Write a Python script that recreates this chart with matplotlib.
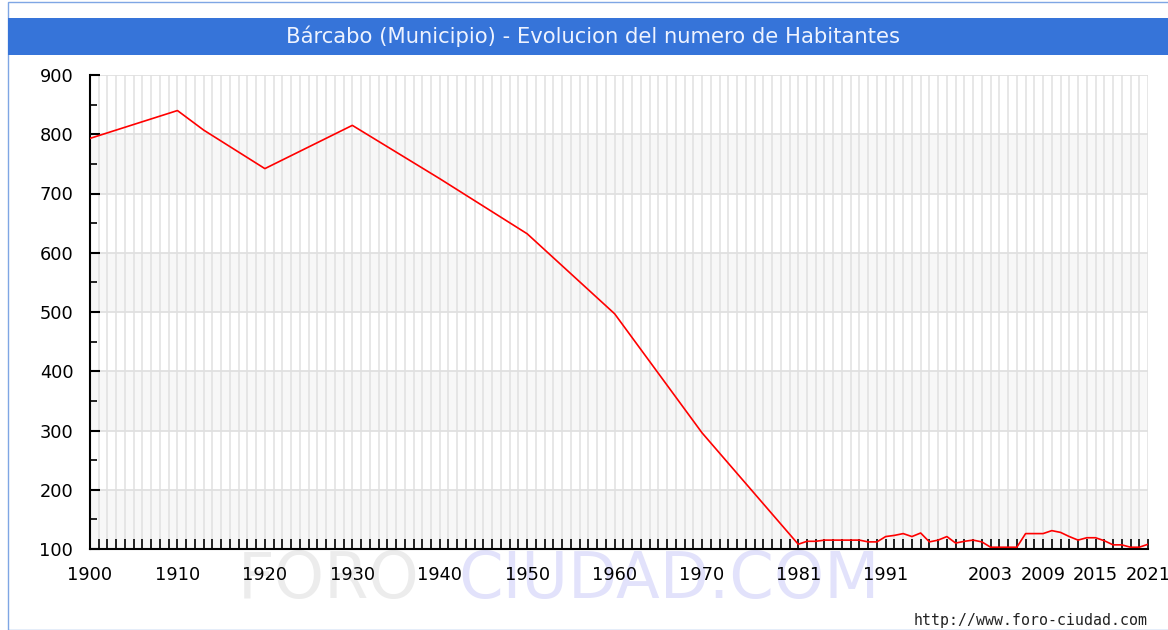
import numpy as np
import matplotlib
matplotlib.use('Agg')
import matplotlib.pyplot as plt
from matplotlib.patches import Rectangle

# --- DATA
years = [1900, 1910, 1913, 1920, 1930, 1940, 1950, 1960, 1970, 1981,
         1982, 1983, 1984, 1985, 1986, 1987, 1988, 1989, 1990, 1991,
         1992, 1993, 1994, 1995, 1996, 1997, 1998, 1999, 2000, 2001,
         2002, 2003, 2004, 2005, 2006, 2007, 2008, 2009, 2010, 2011,
         2012, 2013, 2014, 2015, 2016, 2017, 2018, 2019, 2020, 2021]
habitantes = [793, 840, 807, 742, 815, 725, 632, 497, 296, 108,
              113, 113, 115, 115, 115, 115, 115, 112, 112, 121,
              123, 126, 121, 127, 112, 115, 121, 110, 113, 115,
              112, 103, 103, 103, 103, 126, 126, 126, 131, 128,
              121, 115, 119, 119, 114, 107, 107, 103, 103, 108]
xlabel_years = [1900, 1910, 1920, 1930, 1940, 1950, 1960, 1970, 1981,
                1991, 2003, 2009, 2015, 2021]
titulo = "Bárcabo (Municipio) - Evolucion del numero de Habitantes"

# --- FIGURE
fig = plt.figure(figsize=(11.68, 6.30), dpi=100)
W, H = 1168, 630

# title bar + frame
fig.patches.append(Rectangle((8/W, 0), 1, 1 - 2/H, transform=fig.transFigure,
                             fill=False, edgecolor='#7fa6e4', lw=1, zorder=-3))
fig.patches.append(Rectangle((8/W, 1 - 55/H), 1, 37/H, transform=fig.transFigure,
                             facecolor='#3674d9', edgecolor='none', zorder=-3))
fig.text(593/W, 1 - 36/H, titulo, color='#eef3ff', fontsize=15.2,
         ha='center', va='center')

# watermark
fig.text(238/W, 1 - 598/H, "FORO", color='#ececec', fontsize=46,
         ha='left', va='baseline', zorder=-2)
fig.text(458/W, 1 - 598/H, "CIUDAD.COM", color='#e2e2fb', fontsize=46,
         ha='left', va='baseline', zorder=-2)

fig.text(1148/W, 1 - 620/H, "http://www.foro-ciudad.com", fontsize=10.7,
         family='DejaVu Sans Mono', ha='right', va='center', color='#222222')

ax = fig.add_axes([90/W, 1 - 549/H, (1148 - 90)/W, (549 - 75)/H])
ax.set_zorder(1)
ax.patch.set_alpha(0)

# background bands and grid
for y0 in range(100, 900, 200):
    ax.axhspan(y0, y0 + 100, color='#f7f7f7', zorder=0, lw=0)
for yr in range(1900, 2022):
    ax.axvline(yr, color='#e0e0e0', lw=1.1, zorder=1)
for yv in range(100, 1000, 100):
    ax.axhline(yv, color='#e0e0e0', lw=1.3, zorder=1)

ax.plot(years, habitantes, color='#ff0000', lw=1.2, zorder=3)

ax.set_xlim(1900, 2021)
ax.set_ylim(100, 900)

for s in ['top', 'right']:
    ax.spines[s].set_visible(False)
for s in ['left', 'bottom']:
    ax.spines[s].set_color('black')
    ax.spines[s].set_linewidth(1.5)

ax.set_xticks(range(1900, 2022), minor=True)
ax.set_xticks(xlabel_years)
ax.set_xticklabels([str(y) for y in xlabel_years])
ax.set_yticks(range(100, 1000, 100))
ax.set_yticks(range(150, 900, 100), minor=True)

ax.tick_params(axis='x', which='both', direction='in', length=7, width=1.2,
               pad=12, labelsize=12.8)
ax.tick_params(axis='y', which='major', direction='in', length=7, width=1.5,
               pad=12, labelsize=12.8)
ax.tick_params(axis='y', which='minor', direction='in', length=5, width=1.2)

fig.savefig("out.png", dpi=100)
